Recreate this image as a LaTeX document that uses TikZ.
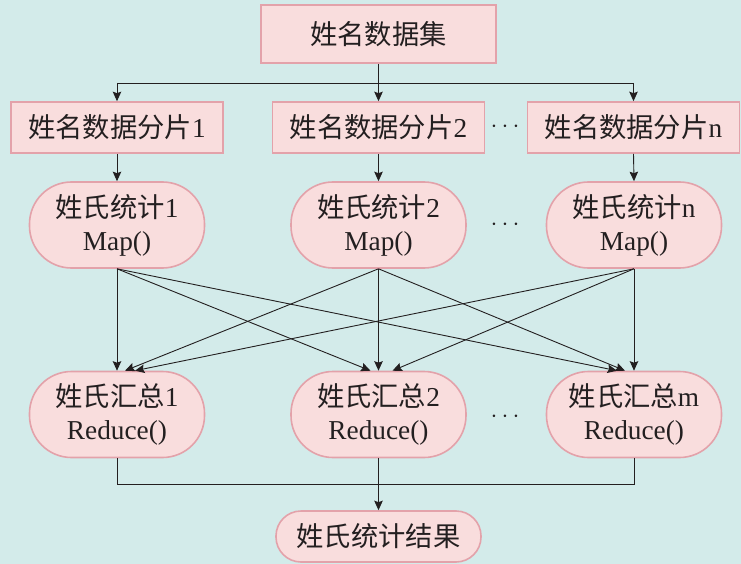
\documentclass[tikz,border=0pt]{standalone}
\usepackage{fontspec}
\setmainfont{Liberation Serif}
\newfontfamily\cjk{Noto Sans CJK SC}
\usetikzlibrary{arrows.meta}
\definecolor{bgc}{HTML}{D3EBEA}
\definecolor{boxfill}{HTML}{F9DDDD}
\definecolor{boxline}{HTML}{E3A2AA}
\definecolor{ink}{HTML}{231F20}
\begin{document}
\begin{tikzpicture}[x=1bp,y=-1bp,
  base/.style={draw=boxline, fill=boxfill, line width=1.6bp, inner sep=0pt, align=center, text=ink,
    font=\fontsize{27.3bp}{33bp}\selectfont},
  rbox/.style={base, rectangle, minimum height=51bp, minimum width=212bp},
  pill/.style={base, rounded corners=42bp, minimum height=86bp, minimum width=175bp},
  arr/.style={draw=ink, line width=0.9bp, -{Stealth[length=9.5bp,width=8.5bp,inset=1.5bp]}},
  ln/.style={draw=ink, line width=0.9bp},
  dots/.style={text=ink, inner sep=0pt, font=\fontsize{24bp}{24bp}\selectfont}]
\fill[bgc] (0,0) rectangle (741,564);
\useasboundingbox (0,0) rectangle (741,564);

\node[rbox, minimum width=235bp, minimum height=58bp] (top) at (378.5,34) {\cjk 姓名数据集};
\node[rbox] (s1) at (117,127.5) {{\cjk 姓名数据分片}1};
\node[rbox] (s2) at (378.5,127.5) {{\cjk 姓名数据分片}2};
\node[rbox] (s3) at (633.5,127.5) {{\cjk 姓名数据分片}n};

\node[pill] (m1) at (117,225) {{\cjk 姓氏统计}1\\Map()};
\node[pill] (m2) at (378.5,225) {{\cjk 姓氏统计}2\\Map()};
\node[pill] (m3) at (634,225) {{\cjk 姓氏统计}n\\Map()};

\node[pill] (r1) at (117,414.5) {{\cjk 姓氏汇总}1\\Reduce()};
\node[pill] (r2) at (378.5,414.5) {{\cjk 姓氏汇总}2\\Reduce()};
\node[pill] (r3) at (634,414.5) {{\cjk 姓氏汇总}m\\Reduce()};

\node[pill, minimum width=205bp, minimum height=51bp, rounded corners=25bp] (res) at (378.5,536.5) {\cjk 姓氏统计结果};

\node[dots] (d1) at (505,127) {$\cdots$};
\node[dots] (d2) at (505,225) {$\cdots$};
\node[dots] (d3) at (505,417) {$\cdots$};

\coordinate (bus1) at (0,83);
\coordinate (bus2) at (0,484);

\draw[ln] (top.south) -- (top.south |- bus1);
\draw[ln] (s1.north |- bus1) -- (s3.north |- bus1);
\draw[arr] (s1.north |- bus1) -- (s1.north);
\draw[arr] (s2.north |- bus1) -- (s2.north);
\draw[arr] (s3.north |- bus1) -- (s3.north);

\draw[arr] (s1.south) -- (m1.north);
\draw[arr] (s2.south) -- (m2.north);
\draw[arr] (s3.south) -- (m3.north);

\draw[arr] (m1.south) -- (r1.north);
\draw[arr] (m1.south) -- ([xshift=-8bp]r2.north);
\draw[arr] (m1.south) -- ([xshift=-17bp]r3.north);
\draw[arr] (m2.south) -- ([xshift=8bp]r1.north);
\draw[arr] (m2.south) -- (r2.north);
\draw[arr] (m2.south) -- ([xshift=-9bp]r3.north);
\draw[arr] (m3.south) -- ([xshift=18bp]r1.north);
\draw[arr] (m3.south) -- ([xshift=14bp]r2.north);
\draw[arr] (m3.south) -- (r3.north);

\draw[ln] (r1.south) -- (r1.south |- bus2) -- (r3.south |- bus2) -- (r3.south);
\draw[arr] (r2.south) -- (res.north);
\end{tikzpicture}
\end{document}
